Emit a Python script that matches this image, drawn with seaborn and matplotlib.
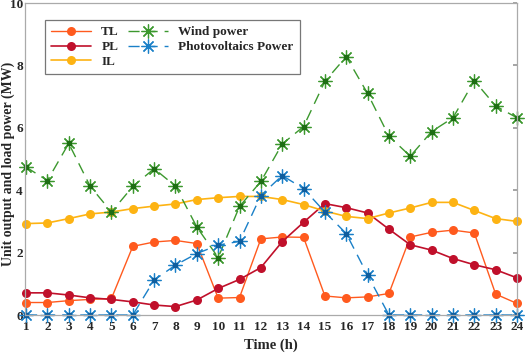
import numpy as np
import pandas as pd
import matplotlib
matplotlib.use("Agg")
import matplotlib.pyplot as plt
import seaborn as sns

hours = list(range(1, 25))
tl = [0.40, 0.40, 0.46, 0.50, 0.53, 2.20, 2.34, 2.39, 2.29, 0.54, 0.56, 2.44,
      2.50, 2.49, 0.61, 0.55, 0.58, 0.69, 2.50, 2.65, 2.72, 2.63, 0.67, 0.37]
pl = [0.71, 0.71, 0.64, 0.55, 0.50, 0.42, 0.32, 0.27, 0.48, 0.85, 1.14, 1.52,
      2.35, 2.97, 3.57, 3.44, 3.27, 2.75, 2.25, 2.08, 1.81, 1.61, 1.45, 1.19]
il = [2.93, 2.95, 3.09, 3.24, 3.30, 3.41, 3.49, 3.56, 3.70, 3.76, 3.80, 3.80,
      3.70, 3.54, 3.33, 3.16, 3.09, 3.27, 3.43, 3.61, 3.61, 3.35, 3.09, 3.00]
wind = [4.74, 4.31, 5.50, 4.13, 3.30, 4.12, 4.69, 4.13, 2.82, 1.84, 3.48, 4.28,
        5.48, 6.04, 7.49, 8.28, 7.10, 5.73, 5.09, 5.88, 6.32, 7.51, 6.70, 6.32]
pv = [0, 0, 0, 0, 0, 0, 1.12, 1.60, 1.97, 2.24, 2.36, 3.83,
      4.47, 4.05, 3.30, 2.61, 1.28, 0, 0, 0, 0, 0, 0, 0]

sns.set_theme(style="white")
plt.rcParams['font.family'] = ['Liberation Serif', 'DejaVu Serif']
plt.rcParams['font.weight'] = 'bold'

fig = plt.figure(figsize=(5.26, 3.54), dpi=100)
ax = fig.add_axes([25/526, 1 - 315/354, (517-25)/526, (315-3)/354])

df = pd.DataFrame({"h": hours, "TL": tl, "PL": pl, "IL": il, "Wind": wind, "PV": pv})

c_tl = "#FF5A1E"
c_pl = "#C0102B"
c_il = "#FDB313"
c_wind = "#3C982E"
c_pv = "#1A80C8"

sns.lineplot(data=df, x="h", y="TL", ax=ax, color=c_tl, lw=1.0, marker="o",
             markersize=6.5, markeredgewidth=0, label="TL", clip_on=False)
sns.lineplot(data=df, x="h", y="PL", ax=ax, color=c_pl, lw=1.2, marker="o",
             markersize=6.5, markeredgewidth=0, label="PL", clip_on=False)
sns.lineplot(data=df, x="h", y="IL", ax=ax, color=c_il, lw=1.2, marker="o",
             markersize=6.5, markeredgewidth=0, label="IL", clip_on=False)
sns.lineplot(data=df, x="h", y="Wind", ax=ax, color=c_wind, lw=1.0, marker=(8, 2, 0),
             markersize=10, markeredgewidth=0.9, markeredgecolor=c_wind,
             dashes=(8, 5), label="Wind power", clip_on=False)
sns.lineplot(data=df, x="h", y="PV", ax=ax, color=c_pv, lw=1.0, marker=(8, 2, 0),
             markersize=10, markeredgewidth=0.9, markeredgecolor=c_pv,
             dashes=(8, 5), label="Photovoltaics Power", clip_on=False)
for y, c in [(wind, "#1E6E14"), (pv, "#0F5E9E")]:
    ax.plot(hours, y, ls="none", marker="s", ms=2.2, color=c, clip_on=False)

ax.set_xlim(0.95, 24)
ax.set_ylim(0, 10)
ax.set_xticks(hours)
ax.set_yticks([0, 2, 4, 6, 8, 10])
ax.tick_params(axis="both", direction="in", length=3, labelsize=9.5,
               color="#999999")
ax.tick_params(axis="y", right=True, pad=1.5)
ax.tick_params(axis="x", pad=4)
for lab in ax.get_xticklabels() + ax.get_yticklabels():
    lab.set_fontweight("bold")
for s in ax.spines.values():
    s.set_color("#aaaaaa")
    s.set_linewidth(0.9)

ax.set_xlabel("Time (h)", fontsize=10.5, fontweight="bold", labelpad=4)
ax.set_ylabel("Unit output and load power (MW)", fontsize=10, fontweight="bold")
ax.yaxis.set_label_coords(-0.020, 0.484)

leg = ax.legend(ncol=2, loc="upper left", bbox_to_anchor=(0.041, 0.945),
                borderaxespad=0, frameon=True, fancybox=False, handlelength=3.0,
                columnspacing=0.7, borderpad=0.45, labelspacing=0.2,
                prop={"weight": "bold", "size": 9.5})
leg.get_frame().set_edgecolor("#555555")
leg.get_frame().set_linewidth(0.9)
leg.set_zorder(5)

fig.savefig("out.png", dpi=100)
